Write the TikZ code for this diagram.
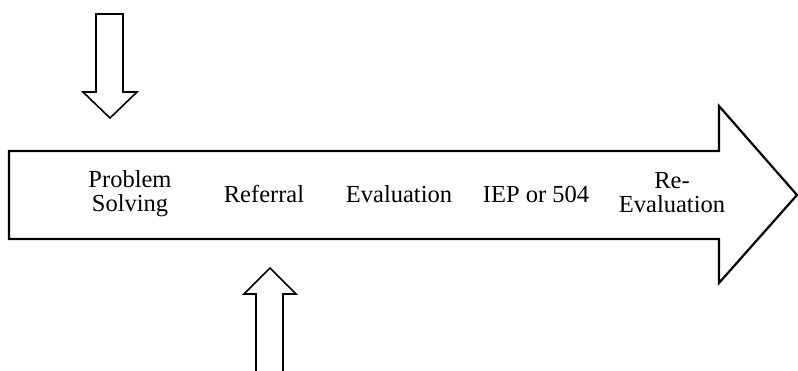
\documentclass[tikz,border=0pt]{standalone}
\usepackage{fontspec}
\setmainfont{Liberation Serif}
\begin{document}
\begin{tikzpicture}[x=1pt,y=-1pt,
  bigarrow/.style={draw=black,line width=2.2pt,fill=white,line join=miter},
  smallarrow/.style={draw=black,line width=1.6pt,fill=white,line join=miter},
  stage/.style={font=\fontsize{24.5}{24}\selectfont,align=center,inner sep=0pt}]
\useasboundingbox (0,0) rectangle (798,370);
% process arrow
\draw[bigarrow] (9,151) -- (719,151) -- (719,106) -- (797,195) -- (719,283)
  -- (719,239) -- (9,239) -- cycle;
% incoming arrow from above
\draw[smallarrow] (96,14) -- (123,14) -- (123,92) -- (137,92) -- (110,118)
  -- (83,92) -- (96,92) -- cycle;
% incoming arrow from below
\draw[smallarrow] (256,372) -- (256,294) -- (244,294) -- (270,268) -- (296,294)
  -- (283,294) -- (283,372);
% stages
\node[stage] (ps) at (130,194) {Problem\\Solving};
\node[stage,anchor=base] (ref) at (264,202) {Referral};
\node[stage,anchor=base] (ev) at (399,202) {Evaluation};
\node[stage,anchor=base] (iep) at (536,202) {IEP or 504};
\node[stage] (reev) at (672,193) {Re-\\Evaluation};
\end{tikzpicture}
\end{document}
